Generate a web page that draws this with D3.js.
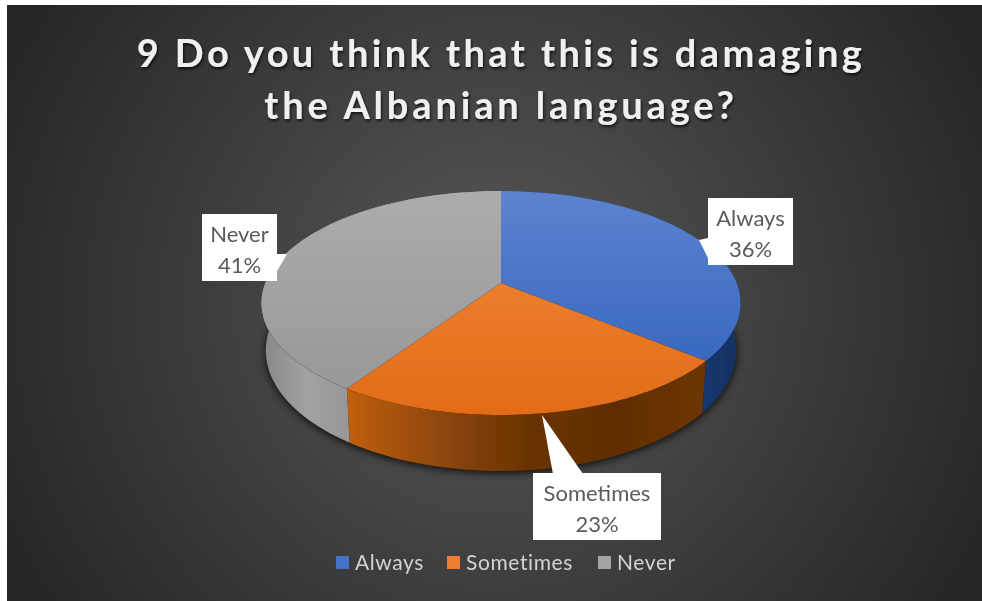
<!DOCTYPE html>
<html><head><meta charset="utf-8">
<script src="https://cdn.jsdelivr.net/npm/d3@7"></script>
<style>html,body{margin:0;padding:0;background:#fff}svg{display:block}text{font-family:Lato,"Open Sans",sans-serif}</style>
</head><body><svg id="c" width="982" height="601"></svg>
<script>
const categories = ["Always","Sometimes","Never"];
const values = [36,23.4,40.6];
const topColors = [["#5c83d0","#2e60ba"],["#f28a3c","#e26c18"],["#acacac","#959595"]];
const sideColors = [["#12376f","#17305f"],["#c05f10","#8f4709","#6a3305","#5f2e05","#6e3606"],["#868686","#a2a2a2","#969696"]];
const legendColors = ["#4472c4","#ed7d31","#a5a5a5"];
const titleLines = ["9 Do you think that this is damaging","the Albanian language?"];
const titleSpacing = [3.4,3.85];

const W=982,H=601;
const svg=d3.select("#c");
const defs=svg.append("defs");
const bg=defs.append("radialGradient").attr("id","bg").attr("gradientUnits","userSpaceOnUse")
  .attr("cx",495).attr("cy",303).attr("r",545);
bg.append("stop").attr("offset",0).attr("stop-color","#585858");
bg.append("stop").attr("offset",1).attr("stop-color","#262626");
svg.append("rect").attr("width",W).attr("height",H).attr("fill","#fff");
svg.append("rect").attr("x",7).attr("y",5).attr("width",W-7).attr("height",H-5).attr("fill","url(#bg)");

const blur=defs.append("filter").attr("id","blur").attr("x","-10%").attr("y","-10%").attr("width","120%").attr("height","130%");
blur.append("feGaussianBlur").attr("stdDeviation",4);
const soft=defs.append("filter").attr("id","soft");
soft.append("feGaussianBlur").attr("stdDeviation",0.5);
const ts=defs.append("filter").attr("id","ts").attr("x","-5%").attr("y","-20%").attr("width","110%").attr("height","140%");
ts.append("feGaussianBlur").attr("in","SourceGraphic").attr("stdDeviation",0.4).attr("result","s");
ts.append("feDropShadow").attr("in","s").attr("dx",1).attr("dy",2).attr("stdDeviation",1.5).attr("flood-color","#000").attr("flood-opacity",0.75);

// perspective disc
const cx=501,cy=283,R=235.7,K=108.4,P=0.1786,Hgt=46,rimScale=0.982;
const proj=(a,h)=>{const u=Math.sin(a),v=-Math.cos(a),d=1-P*v;
  return h?[cx+rimScale*R*u/d,cy+(K*v+Hgt)/d]:[cx+R*u/d,cy+K*v/d];};
const arcPts=(a0,a1,h)=>d3.range(0,61).map(i=>proj(a0+(a1-a0)*i/60,h));
const line=d3.line();
const slices=d3.pie().sort(null)(values);

// shadow
svg.append("path").attr("d",line(arcPts(0,2*Math.PI,true).map(p=>[p[0],p[1]+2]))+"Z")
  .attr("fill","#000").attr("opacity",.85).attr("filter","url(#blur)");

const pieG=svg.append("g").attr("filter","url(#soft)");
// walls
const wallRange=[[705,741],[348,705],[262,350]];
slices.forEach((s,i)=>{
  const id="side"+i;
  const g=defs.append("linearGradient").attr("id",id).attr("gradientUnits","userSpaceOnUse")
    .attr("x1",wallRange[i][0]).attr("x2",wallRange[i][1]).attr("y1",0).attr("y2",0);
  const cols=sideColors[i];
  cols.forEach((c,k)=>g.append("stop").attr("offset",k/(cols.length-1)).attr("stop-color",c));
  const t=arcPts(s.startAngle,s.endAngle,false), b=arcPts(s.startAngle,s.endAngle,true).reverse();
  pieG.append("path").attr("d",line(t.concat(b))+"Z").attr("fill",`url(#${id})`);
});
// top faces
const topGrad=(id,c)=>{const g=defs.append("linearGradient").attr("id",id).attr("gradientUnits","userSpaceOnUse")
  .attr("x1",0).attr("x2",0).attr("y1",191).attr("y2",415);
  g.append("stop").attr("offset",0).attr("stop-color",c[0]);g.append("stop").attr("offset",1).attr("stop-color",c[1]);};
slices.forEach((s,i)=>{
  topGrad("top"+i,topColors[i]);
  pieG.append("path").attr("d",line([[cx,cy]].concat(arcPts(s.startAngle,s.endAngle,false)))+"Z")
    .attr("fill",`url(#top${i})`);
});

// data labels: box and pointer triangle
const labelBoxes=[
 {b:[708,198,85,67],tri:[[708,238],[699,240],[708,258]]},
 {b:[533,473,128,67],tri:[[553,474],[542,415],[583,474]]},
 {b:[202,214,75,67],tri:[[277,254],[287,254],[277,271]]}
];
labelBoxes.forEach((l,i)=>{
  const g=svg.append("g");
  g.append("path").attr("d",line(l.tri)+"Z").attr("fill","#fff");
  g.append("rect").attr("x",l.b[0]).attr("y",l.b[1]).attr("width",l.b[2]).attr("height",l.b[3]).attr("fill","#fff");
  const tx=l.b[0]+l.b[2]/2;
  const t=g.append("g").attr("filter","url(#soft)");
  t.append("text").attr("x",tx).attr("y",l.b[1]+28).attr("text-anchor","middle").attr("font-size",22).attr("fill","#5a5a5a").text(categories[i]);
  t.append("text").attr("x",tx).attr("y",l.b[1]+59).attr("text-anchor","middle").attr("font-size",22).attr("fill","#5a5a5a").text(Math.round(values[i])+"%");
});

// title
titleLines.forEach((t,i)=>{
  svg.append("text").attr("x",501).attr("y",67+i*52).attr("text-anchor","middle")
   .attr("font-size",38).attr("font-weight",700).attr("fill","#f0f0f0").attr("letter-spacing",titleSpacing[i])
   .attr("filter","url(#ts)").text(t);
});

// legend
const legX=[336,447,598], legTx=[355,466,617];
categories.forEach((c,i)=>{
  svg.append("rect").attr("x",legX[i]).attr("y",556).attr("width",13).attr("height",13).attr("fill",legendColors[i]).attr("filter","url(#soft)");
  svg.append("text").attr("x",legTx[i]).attr("y",570).attr("font-size",21).attr("fill","#d4d4d4").attr("letter-spacing",.6).attr("filter","url(#soft)").text(c);
});
</script></body></html>
